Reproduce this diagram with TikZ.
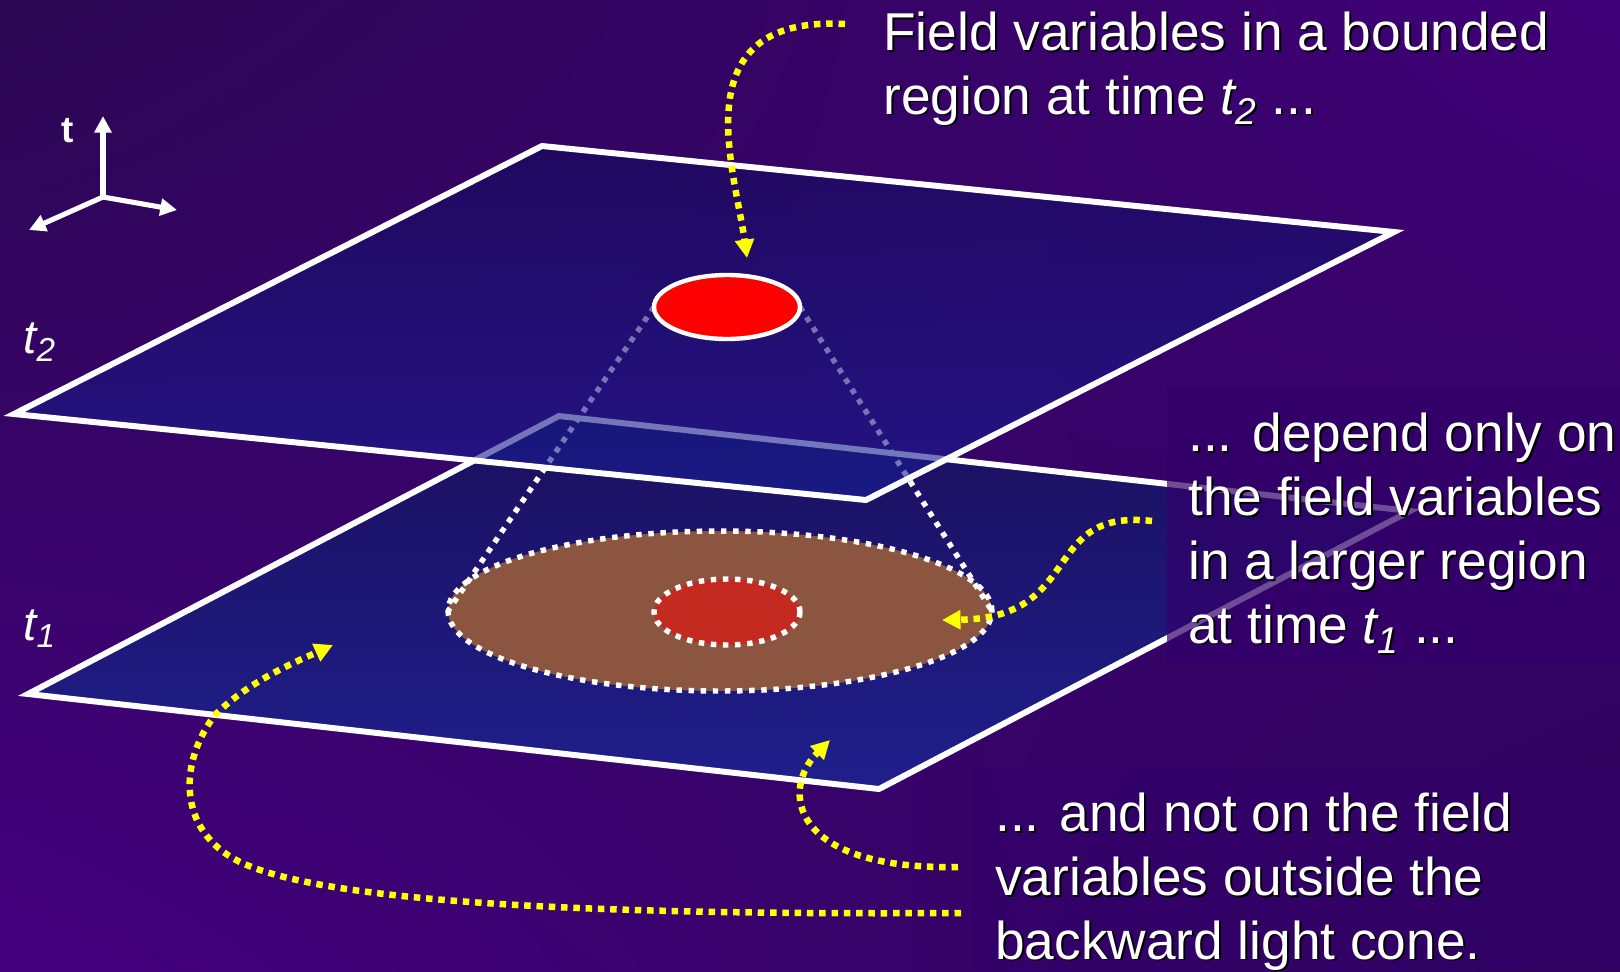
\documentclass[tikz,border=0pt]{standalone}
\usepackage{fontspec}
\setmainfont{Liberation Sans}
\usepackage{xcolor}
\usepackage{tikz}
\usetikzlibrary{arrows.meta,positioning,shapes.geometric,shadings}
\definecolor{bgdark}{HTML}{2A0752}
\definecolor{bgright}{HTML}{400078}
\definecolor{bgleft}{HTML}{44007F}
\definecolor{bgcorner}{HTML}{2C0458}
\definecolor{planeback}{HTML}{1B0F5E}
\definecolor{planefront}{HTML}{1F1F8C}
\definecolor{glassback}{HTML}{140C5E}
\definecolor{glassfront}{HTML}{182098}
\definecolor{notebox}{HTML}{32006A}
\definecolor{regionbrown}{HTML}{8B5540}
\definecolor{pastred}{HTML}{C42A20}
\definecolor{cueyellow}{HTML}{FFFF00}
\newcommand\shadowed[1]{\leavevmode\rlap{\kern1.1pt\raisebox{-1.1pt}{\color{black}#1}}#1}
\pgfdeclarelayer{lower}
\pgfsetlayers{lower,main}
\tikzset{
  planeedge/.style={draw=white,line width=3.4pt,line join=miter,
                    top color=planeback,bottom color=planefront},
  conedots/.style={draw=white,line width=3.1pt,dash pattern=on 3.1pt off 3.8pt},
  spotnode/.style={ellipse,inner sep=0pt,outer sep=0pt},
  cuearrow/.style={draw=cueyellow,line width=3.7pt,dash pattern=on 3.7pt off 3.3pt,
                   -{Triangle[length=10.5pt,width=10.5pt]}},
  axisarrow/.style={draw=white,line width=2.9pt,-{Triangle[length=9.5pt,width=9.5pt]}},
  notetext/.style={font=\fontsize{30.3}{36.3}\selectfont,text=white,align=left,
                   inner sep=0pt,anchor=base west},
  timelabel/.style={font=\fontsize{27}{30}\selectfont\itshape,text=white,
                    inner sep=0pt,anchor=base west},
}

\begin{document}
\begin{tikzpicture}[x=0.02cm,y=-0.02cm]
  \useasboundingbox (0,0) rectangle (1620,971);
  \begin{pgfonlayer}{lower}
    \shade[upper left=bgdark,upper right=bgright,lower left=bgleft,lower right=bgcorner]
      (0,0) rectangle (1620,971);
    \coordinate (b1) at (559,416); \coordinate (r1) at (1410,511);
    \coordinate (f1) at (879,789); \coordinate (l1) at (28,694);
    \shadedraw[planeedge] (b1) -- (r1) -- (f1) -- (l1) -- cycle;
    \node[spotnode,conedots,fill=regionbrown,minimum width=10.88cm,minimum height=3.2cm]
      (region1) at (720,611) {};
    \node[spotnode,conedots,fill=pastred,minimum width=2.92cm,minimum height=1.32cm]
      (spot1) at (727,612) {};
  \end{pgfonlayer}

  \coordinate (b2) at (542,146); \coordinate (r2) at (1394,232);
  \coordinate (f2) at (866,500); \coordinate (l2) at (14,414);
  \shadedraw[planeedge,top color=glassback,bottom color=glassfront,fill opacity=0.6]
    (b2) -- (r2) -- (f2) -- (l2) -- cycle;
  \node[spotnode,draw=white,line width=2.5pt,fill=red,minimum width=2.92cm,minimum height=1.28cm]
    (spot2) at (727,307) {};

  \begin{pgfonlayer}{lower}
    \draw[conedots] (spot2.west) -- (region1.west);
    \draw[conedots] (spot2.east) -- (region1.east);
  \end{pgfonlayer}

  \fill[notebox,fill opacity=0.7] (1167,387) rectangle (1620,663);
  \fill[notebox,fill opacity=0.6] (972,768) rectangle (1620,971);

  \node[notetext] (note2) at (883,114)
    {\shadowed{Field variables in a bounded}\\
     \shadowed{region at time \textit{t\textsubscript{2}} ...}};
  \node[notetext] (note1) at (1188,643)
    {\shadowed{... depend only on}\\
     \shadowed{the field variables}\\
     \shadowed{in a larger region}\\
     \shadowed{at time \textit{t\textsubscript{1}} ...}};
  \node[notetext] (noteout) at (995,959)
    {\shadowed{... and not on the field}\\
     \shadowed{variables outside the}\\
     \shadowed{backward light cone.}};

  \coordinate (cue2) at (845,24);   \coordinate (hit2) at (747,258);
  \coordinate (cue1) at (1152,521); \coordinate (hit1) at (942,620);
  \coordinate (cueA) at (961,913);  \coordinate (hitA) at (333,645);
  \coordinate (cueB) at (958,867);  \coordinate (hitB) at (830,740);
  \draw[cuearrow] (cue2) .. controls (680,15) and (735,170) .. (hit2);
  \draw[cuearrow] (cue1) .. controls (1040,508) and (1085,618) .. (hit1);
  \draw[cuearrow] (cueA) .. controls (620,915) and (330,905) .. (240,862)
    .. controls (175,830) and (180,760) .. (215,715)
    .. controls (250,680) and (300,660) .. (hitA);
  \draw[cuearrow] (cueB) .. controls (790,870) and (780,790) .. (hitB);

  \coordinate (axo) at (103,197);
  \coordinate (axt) at (103,116);
  \coordinate (axx) at (177,210);
  \coordinate (axy) at (29,230);
  \foreach \tip in {axt,axx,axy}
    \draw[axisarrow] (axo) -- (\tip);
  \node[font=\fontsize{21}{24}\selectfont\bfseries,text=white,anchor=base] (tname) at (68,142) {t};

  \node[timelabel] (t2lab) at (23,353) {t\textsubscript{2}};
  \node[timelabel] (t1lab) at (23,640) {t\textsubscript{1}};
\end{tikzpicture}
\end{document}
